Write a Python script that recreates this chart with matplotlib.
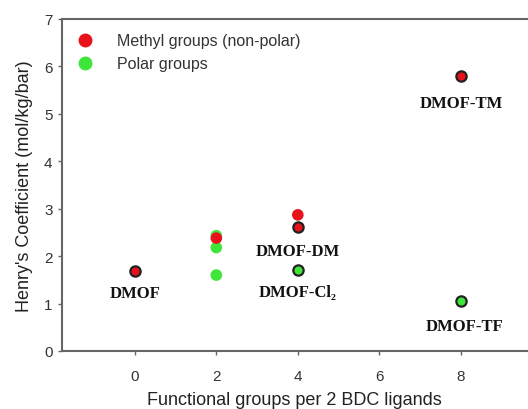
import matplotlib
matplotlib.use("Agg")
import matplotlib.pyplot as plt
from matplotlib.lines import Line2D

# named MOFs (outlined markers)
mof_names = ["DMOF", "DMOF-TM", "DMOF-DM", "DMOF-Cl₂", "DMOF-TF"]
mof_x = [0, 8, 4, 4, 8]
mof_y = [1.69, 5.79, 2.62, 1.71, 1.06]
mof_kind = ["methyl", "methyl", "methyl", "polar", "polar"]
label_x = [0, 8, 4, 4, 8.1]
label_y = [1.22, 5.23, 2.10, 1.24, 0.53]

# other points (no outline)
methyl_x = [2, 4]
methyl_y = [2.38, 2.87]
polar_x = [2, 2, 2]
polar_y = [2.43, 2.18, 1.60]

red = "#e8121c"
green = "#3ee63a"
colors = {"methyl": red, "polar": green}

fig = plt.figure(figsize=(5.28, 4.10), dpi=100)
ax = fig.add_axes([0.1165, 0.1415, 0.8835, 0.8098])

ax.scatter(polar_x, polar_y, s=70, color=green, edgecolors="none", zorder=2)
ax.scatter(methyl_x, methyl_y, s=70, color=red, edgecolors="none", zorder=3)
for x, y, k in zip(mof_x, mof_y, mof_kind):
    ax.scatter(x, y, s=55, color=colors[k], edgecolors="#222222", linewidths=1.6, zorder=4)

for name, x, y in zip(mof_names, label_x, label_y):
    ax.text(x, y, name, ha="center", va="center", fontsize=12, fontweight="bold",
            family=["Liberation Serif", "DejaVu Serif"], color="#111111")

ax.set_xlim(-1.8, 9.65)
ax.set_ylim(0, 7)
ax.set_xticks([0, 2, 4, 6, 8])
ax.set_yticks(range(0, 8))

for side in ["left", "bottom", "top"]:
    ax.spines[side].set_color("#666666")
    ax.spines[side].set_linewidth(1.5)
ax.spines["right"].set_visible(False)
ax.tick_params(direction="out", length=3, width=1, colors="#666666",
               labelcolor="#333333", labelsize=11)
for lab in ax.get_xticklabels() + ax.get_yticklabels():
    lab.set_family("Liberation Sans")
ax.tick_params(axis="x", pad=10)

ax.set_xlabel("Functional groups per 2 BDC ligands", fontsize=13, family="Liberation Sans",
              color="#222222", labelpad=6)
ax.set_ylabel("Henry's Coefficient (mol/kg/bar)", fontsize=13, family="Liberation Sans",
              color="#222222", labelpad=8)

handles = [Line2D([], [], marker="o", ls="", color=red, markersize=9),
           Line2D([], [], marker="o", ls="", color=green, markersize=9)]
ax.legend(handles, ["Methyl groups (non-polar)", "Polar groups"], loc="upper left",
          frameon=False, prop={"family": "Liberation Sans", "size": 11.5},
          handlelength=1.2, handletextpad=1.4, labelspacing=0.5, borderaxespad=0.5,
          borderpad=0.4, labelcolor="#333333")

fig.savefig("out.png", dpi=100)
